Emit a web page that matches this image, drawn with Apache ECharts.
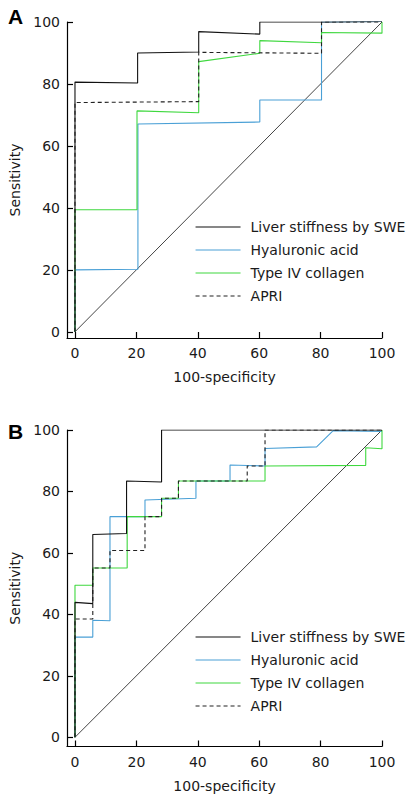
<!DOCTYPE html>
<html>
<head>
<meta charset="utf-8">
<script src="https://cdn.jsdelivr.net/npm/echarts@6/dist/echarts.min.js"></script>
<style>
html,body{margin:0;padding:0;background:#fff;}
#c{width:417px;height:801px;}
</style>
</head>
<body>
<div id="c"></div>
<script>
// ---- data ----
const xTicks = [0, 20, 40, 60, 80, 100];
const yTicks = [0, 20, 40, 60, 80, 100];
const legendNames = ['Liver stiffness by SWE', 'Hyaluronic acid', 'Type IV collagen', 'APRI'];
const panelLabels = ['A', 'B'];
const xName = '100-specificity';
const yName = 'Sensitivity';
const diagonal = [[0, 0], [100, 100]];

// Panel A
const sweA = [[0,0],[0,80.6],[20.4,80.3],[20.4,90],[40.3,90.3],[40.3,96.9],[60.2,96.1],[60.2,100],[80.3,100],[100,100.2]];
const haA  = [[0,0],[0,20],[20.5,20.2],[20.5,67.1],[60.2,67.7],[60.2,74.8],[80.3,74.8],[80.3,100],[100,100.2]];
const col4A = [[0,0],[0,39.4],[20.2,39.4],[20.2,71.3],[40.3,70.7],[40.3,87.2],[60.2,89.9],[60.2,94],[80.3,93.3],[80.3,96.6],[100,96.4],[100,100]];
const apriA = [[0,0],[0,74],[40.3,74.3],[40.3,90.2],[80.3,89.9],[80.3,100],[100,100]];

// Panel B
const sweB = [[0,0],[0,43.9],[5.8,43.5],[5.8,66],[16.8,66.3],[16.8,83.4],[28.2,83.1],[28.2,100],[100,100]];
const haB  = [[0,0],[0,32.6],[5.8,32.6],[5.8,38.1],[11.4,37.9],[11.4,71.8],[22.8,71.8],[22.8,77.2],[39.4,77.8],[39.4,83.4],[50.5,83.4],[50.5,88.6],[61.9,88.3],[61.9,94],[78.7,94.5],[84.1,99.8],[100,99.5]];
const col4B = [[0,0],[0,49.5],[5.8,49.5],[5.8,55.1],[17,55.1],[17,71.8],[28.2,71.8],[28.2,77.8],[33.7,77.8],[33.7,83.4],[61.9,83.4],[61.9,88.3],[94.7,88.5],[94.7,94.2],[100,93.9],[100,100]];
const apriB = [[0,0],[0,38.5],[5.8,38.5],[5.8,55.1],[11.4,55.1],[11.4,60.8],[22.8,60.8],[22.8,71.8],[28.2,71.8],[28.2,77.8],[33.7,77.8],[33.7,83.4],[56.1,83.4],[56.1,88.3],[61.9,88.3],[61.9,100],[100,100]];

// ---- styling ----
const FONT = 'DejaVu Sans';
const TXT = '#1a1a1a';
const colors = ['#111111', '#4aa0d6', '#3fd83f', '#222222'];
const lineTypes = ['solid', 'solid', 'solid', [4, 3]];

const panels = [
  {top: 22, height: 316, ymin: -2, series: [sweA, haA, col4A, apriA], legendTop: 215, labelTop: 6},
  {top: 430, height: 316.5, ymin: -3, series: [sweB, haB, col4B, apriB], legendTop: 625, labelTop: 421}
];

const grid = [], xAxis = [], yAxis = [], series = [], legend = [], graphic = [];
panels.forEach((p, i) => {
  grid.push({left: 67, width: 315, top: p.top, height: p.height, outerBoundsMode: 'none', containLabel: false});
  xAxis.push({
    type: 'value', gridIndex: i, min: -2.6, max: 100,
    name: xName, nameLocation: 'middle', nameGap: 32,
    nameTextStyle: {fontFamily: FONT, fontSize: 14, color: TXT},
    axisLine: {show: true, onZero: false, lineStyle: {color: '#000', width: 1.2}},
    axisTick: {show: true, inside: true, length: 6, customValues: xTicks, lineStyle: {color: '#000', width: 1.2}},
    axisLabel: {customValues: xTicks, margin: 8, fontFamily: FONT, fontSize: 14, color: TXT},
    splitLine: {show: false}
  });
  yAxis.push({
    type: 'value', gridIndex: i, min: p.ymin, max: 100,
    name: yName, nameLocation: 'middle', nameGap: 44, nameRotate: 90,
    nameTextStyle: {fontFamily: FONT, fontSize: 14, color: TXT},
    axisLine: {show: true, onZero: false, lineStyle: {color: '#000', width: 1.2}},
    axisTick: {show: true, inside: true, length: 6, customValues: yTicks, lineStyle: {color: '#000', width: 1.2}},
    axisLabel: {customValues: yTicks, margin: 7, fontFamily: FONT, fontSize: 14, color: TXT},
    splitLine: {show: false}
  });
  series.push({
    name: 'reference', type: 'line', xAxisIndex: i, yAxisIndex: i, data: diagonal,
    symbol: 'none', silent: true, lineStyle: {color: '#444', width: 1}, z: 1
  });
  p.series.forEach((d, k) => {
    series.push({
      name: legendNames[k], type: 'line', xAxisIndex: i, yAxisIndex: i, data: d,
      symbol: 'none', showSymbol: false,
      lineStyle: {color: colors[k], width: 1.1, type: lineTypes[k]},
      itemStyle: {color: colors[k]}, z: 2 + (k === 0 ? 3 : k === 3 ? 2 : 1)
    });
  });
  legend.push({
    data: legendNames, orient: 'vertical', left: 190, top: p.legendTop,
    itemWidth: 45, itemHeight: 14, itemGap: 9,
    itemStyle: {opacity: 0}, lineStyle: {width: 1.1}, selectedMode: false,
    textStyle: {fontFamily: FONT, fontSize: 14, color: TXT, padding: [0, 0, 0, 5]}
  });
  graphic.push({
    type: 'text', left: 8, top: p.labelTop,
    style: {text: panelLabels[i], font: 'bold 21px "Liberation Sans", Arial, sans-serif', fill: '#000'}
  });
});

const chart = echarts.init(document.getElementById('c'), null, {renderer: 'svg', width: 417, height: 801});
chart.setOption({
  animation: false,
  backgroundColor: '#fff',
  grid, xAxis, yAxis, series, legend, graphic
});
</script>
</body>
</html>
